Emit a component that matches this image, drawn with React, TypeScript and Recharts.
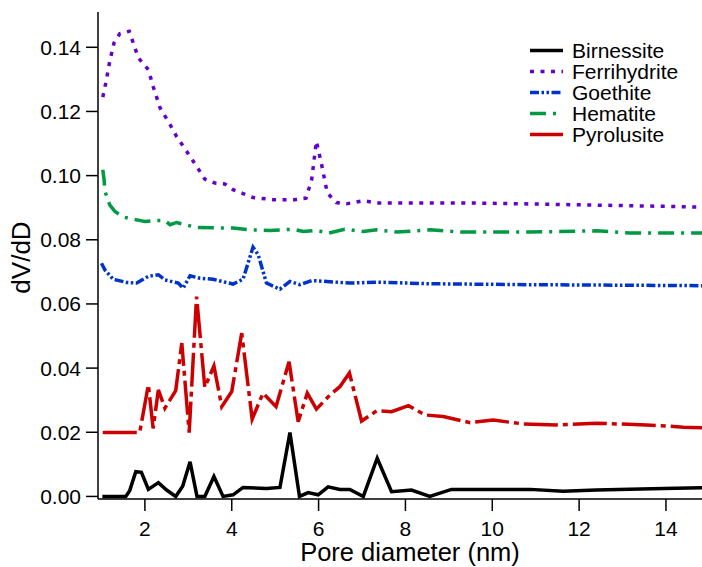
import React from "react";
import { LineChart, Line, XAxis, YAxis } from "recharts";

// [pore diameter (nm), dV/dD]
const birnessite: [number, number][] = [
  [1.02, 0], [1.56, 0], [1.65, 0.0018], [1.79, 0.0077], [1.92, 0.0075], [2.08, 0.0022],
  [2.31, 0.0043], [2.5, 0.002], [2.71, 0], [2.87, 0.0032], [3.04, 0.0108], [3.2, 0],
  [3.38, 0], [3.59, 0.0062], [3.8, 0], [4.03, 0.0005], [4.26, 0.0028], [4.8, 0.0025],
  [5.11, 0.0028], [5.34, 0.0199], [5.56, 0], [5.76, 0.0012], [5.99, 0.0005], [6.22, 0.003],
  [6.49, 0.0022], [6.72, 0.0022], [7.03, 0], [7.35, 0.0119], [7.68, 0.0015], [8.14, 0.002],
  [8.56, 0], [9.06, 0.0022], [10.87, 0.0022], [11.63, 0.0016], [12.4, 0.002], [13.94, 0.0025],
  [14.83, 0.0027],
];

const ferrihydrite: [number, number][] = [
  [1.03, 0.1245], [1.1, 0.1289], [1.19, 0.1356], [1.29, 0.1414], [1.42, 0.1442], [1.64, 0.145],
  [1.73, 0.1414], [1.85, 0.1367], [2.08, 0.133], [2.19, 0.1278], [2.35, 0.1211], [2.58, 0.1159],
  [2.73, 0.1122], [2.96, 0.1076], [3.19, 0.1029], [3.38, 0.0989], [3.61, 0.0977], [3.84, 0.0974],
  [4.03, 0.0956], [4.26, 0.0944], [4.49, 0.0932], [4.95, 0.0925], [5.45, 0.0925], [5.71, 0.093],
  [5.84, 0.0987], [5.95, 0.1107], [6.07, 0.1034], [6.2, 0.0946], [6.41, 0.0916], [6.64, 0.0912],
  [7.03, 0.0922], [7.34, 0.0915], [9.33, 0.0915], [11.62, 0.091], [14.83, 0.0902],
];

const goethite: [number, number][] = [
  [1.0, 0.0727], [1.08, 0.0706], [1.27, 0.0677], [1.58, 0.0667], [1.81, 0.0665], [2.08, 0.0686],
  [2.31, 0.0691], [2.46, 0.0675], [2.77, 0.0665], [2.88, 0.0649], [3.04, 0.0688], [3.27, 0.068],
  [3.57, 0.0677], [4.03, 0.0662], [4.26, 0.0677], [4.49, 0.0777], [4.61, 0.0753], [4.8, 0.0665],
  [5.11, 0.0646], [5.34, 0.067], [5.57, 0.066], [5.84, 0.0673], [6.72, 0.0665], [7.34, 0.0668],
  [8.56, 0.0663], [10.87, 0.066], [14.83, 0.0657],
];

const hematite: [number, number][] = [
  [1.03, 0.1018], [1.06, 0.0987], [1.08, 0.0951], [1.19, 0.0909], [1.31, 0.0888], [1.5, 0.0871],
  [1.81, 0.0862], [2.0, 0.0857], [2.23, 0.086], [2.46, 0.086], [2.58, 0.0847], [2.73, 0.0854],
  [3.19, 0.0838], [3.65, 0.0837], [4.03, 0.0837], [4.42, 0.0831], [4.88, 0.0829], [5.42, 0.0833],
  [5.65, 0.0826], [5.95, 0.0829], [6.24, 0.0821], [6.6, 0.0833], [7.03, 0.0826], [7.34, 0.0831],
  [7.8, 0.0824], [8.56, 0.0831], [9.33, 0.0824], [10.87, 0.0824], [12.4, 0.0828], [13.17, 0.0821],
  [14.83, 0.0821],
];

const pyrolusite: [number, number][] = [
  [1.03, 0.0199], [1.88, 0.0199], [2.08, 0.0348], [2.19, 0.0212], [2.31, 0.0332], [2.46, 0.0275],
  [2.71, 0.033], [2.85, 0.0478], [3.02, 0.0199], [3.19, 0.0623], [3.38, 0.034], [3.59, 0.0407],
  [3.77, 0.028], [4.0, 0.0327], [4.23, 0.0509], [4.47, 0.0241], [4.72, 0.0322], [5.02, 0.028],
  [5.32, 0.042], [5.53, 0.0233], [5.74, 0.0322], [5.95, 0.0272], [6.26, 0.0316], [6.49, 0.0342],
  [6.71, 0.0385], [6.99, 0.0235], [7.34, 0.0267], [7.68, 0.0264], [8.07, 0.0283], [8.45, 0.0254],
  [8.87, 0.0249], [9.49, 0.023], [10.02, 0.0238], [10.71, 0.0226], [11.48, 0.0223], [12.4, 0.0228],
  [13.55, 0.0223], [14.4, 0.0216], [14.83, 0.0214],
];

const xTicks = [2, 4, 6, 8, 10, 12, 14];
const yTicks = [0, 0.02, 0.04, 0.06, 0.08, 0.1, 0.12, 0.14];

const FONT = '"Liberation Sans", Arial, Helvetica, sans-serif';

const series = [
  { name: "Birnessite", points: birnessite, color: "#000000", dash: undefined },
  { name: "Ferrihydrite", points: ferrihydrite, color: "#6600cc", dash: "4 6.5" },
  { name: "Goethite", points: goethite, color: "#0033cc", dash: "9 2.5 2.5 2.5 2.5 2.5" },
  { name: "Hematite", points: hematite, color: "#009944", dash: "16 7 3 7" },
  { name: "Pyrolusite", points: pyrolusite, color: "#cc0000", dash: "34 5 5 5" },
];

const toRows = (pts: [number, number][]) => pts.map(([x, y]) => ({ x, y }));

const tickStyle = { fill: "#000", fontSize: 21, fontFamily: FONT };

const PoreLegend = () => (
  <div
    style={{
      position: "absolute",
      left: 530,
      top: 40,
      fontFamily: FONT,
      fontSize: 21,
      lineHeight: "21px",
      color: "#000",
    }}
  >
    {series.map((s) => (
      <div key={s.name} style={{ display: "flex", alignItems: "center", height: 21 }}>
        <svg width={33} height={21} style={{ marginRight: 9 }}>
          <line
            x1={0}
            x2={33}
            y1={10.5}
            y2={10.5}
            stroke={s.color}
            strokeWidth={3.5}
            strokeDasharray={s.dash}
          />
        </svg>
        <span>{s.name}</span>
      </div>
    ))}
  </div>
);

export default function App() {
  return (
    <div style={{ position: "fixed", left: 0, top: 0, width: 702, height: 567, background: "#fff" }}>
      <LineChart width={702} height={567} margin={{ top: 12, right: 0, bottom: 0, left: 0 }}>
        <XAxis
          xAxisId="top"
          orientation="top"
          type="number"
          dataKey="x"
          domain={[0.92, 14.83]}
          allowDataOverflow
          height={0}
          tick={false}
          tickLine={false}
          axisLine={{ stroke: "#000", strokeWidth: 1.5 }}
        />
        <XAxis
          type="number"
          dataKey="x"
          domain={[0.92, 14.83]}
          allowDataOverflow
          ticks={xTicks}
          height={68}
          tick={tickStyle}
          tickSize={12}
          tickMargin={10}
          axisLine={{ stroke: "#000", strokeWidth: 1.5 }}
          tickLine={{ stroke: "#000", strokeWidth: 1.5 }}
          label={{
            position: "insideBottom",
            content: ({ viewBox }: any) => (
              <text
                x={viewBox.x + viewBox.width / 2 + 10}
                y={viewBox.y + viewBox.height - 6}
                textAnchor="middle"
                fontSize={25.5}
                fontFamily={FONT}
                fill="#000"
              >
                Pore diameter (nm)
              </text>
            ),
          }}
        />
        <YAxis
          type="number"
          domain={[-0.0008, 0.151]}
          allowDataOverflow
          ticks={yTicks}
          width={98}
          tick={tickStyle}
          tickFormatter={(v: number) => v.toFixed(2)}
          tickSize={12}
          tickMargin={5}
          axisLine={{ stroke: "#000", strokeWidth: 1.5 }}
          tickLine={{ stroke: "#000", strokeWidth: 1.5 }}
          label={{
            position: "insideLeft",
            content: ({ viewBox }: any) => {
              const cx = viewBox.x + 21;
              const cy = viewBox.y + viewBox.height / 2 + 2;
              return (
                <text
                  x={cx}
                  y={cy}
                  transform={`rotate(-90 ${cx} ${cy})`}
                  textAnchor="middle"
                  dominantBaseline="central"
                  fontSize={26}
                  fontFamily={FONT}
                  fill="#000"
                >
                  dV/dD
                </text>
              );
            },
          }}
        />
        {series.map((s) => (
          <Line
            key={s.name}
            data={toRows(s.points)}
            dataKey="y"
            name={s.name}
            type="linear"
            stroke={s.color}
            strokeWidth={3.5}
            strokeDasharray={s.dash}
            dot={false}
            activeDot={false}
            isAnimationActive={false}
          />
        ))}
      </LineChart>
      <PoreLegend />
    </div>
  );
}
